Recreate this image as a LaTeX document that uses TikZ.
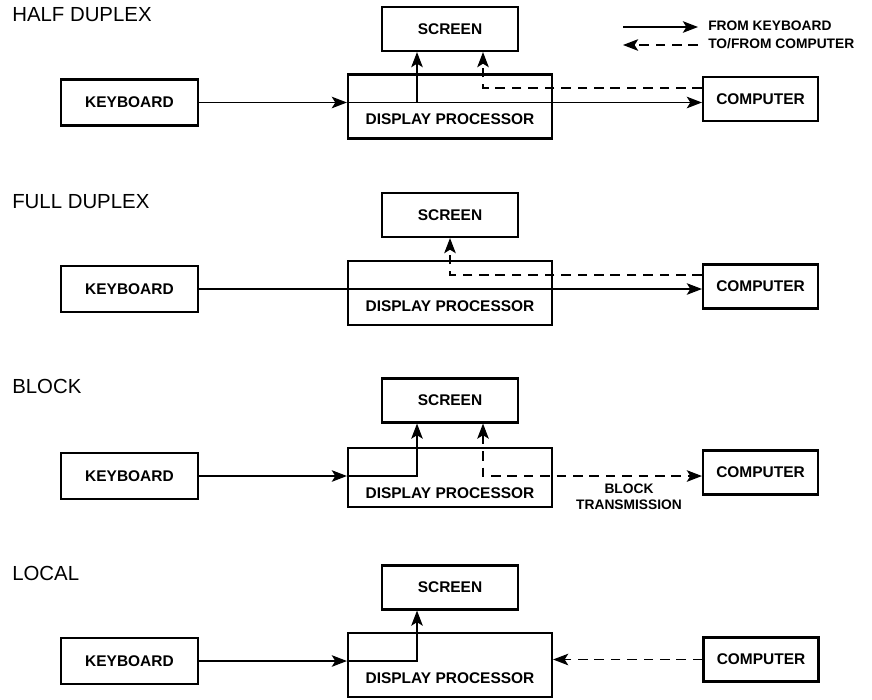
\documentclass[tikz,border=0pt]{standalone}
\usepackage{fontspec}
\setmainfont{Liberation Sans}
\usetikzlibrary{arrows.meta}

\tikzset{
	unit/.style={draw, line width=1.5pt, inner sep=0pt, font=\bfseries\fontsize{11}{12}\selectfont},
	heading/.style={anchor=west, inner sep=0pt, font=\fontsize{14.5}{16}\selectfont},
	keyline/.style={line width=0.8pt, ->},
	hostline/.style={line width=0.8pt, ->, dash pattern=on 2.4mm off 1.7mm},
	legend/.style={anchor=west, inner sep=0pt, font=\bfseries\fontsize{9.8}{11.5}\selectfont},
}

\begin{document}
\begin{tikzpicture}[x=0.025cm, y=-0.025cm, >={Stealth[length=3.8mm,width=2.9mm,inset=0.9mm]}]
	\useasboundingbox (0,0) rectangle (872,699);

	% Legend
	\coordinate (la) at (623,27);
	\coordinate (lb) at (698,27);
	\coordinate (lc) at (623,45);
	\coordinate (ld) at (698,45);
	\draw[keyline] (la) -- (lb);
	\draw[hostline] (ld) -- (lc);
	\node[legend] (lk) at (708,26) {FROM KEYBOARD};
	\node[legend] (lh) at (708,44) {TO/FROM COMPUTER};

	% Half duplex
	\node[heading] (t1) at (12,15) {HALF DUPLEX};
	\node[unit, minimum width=3.425cm, minimum height=1.15cm] (kb1) at (129.5,102.5) {KEYBOARD};
	\node[unit, minimum width=3.4cm, minimum height=1.1cm] (sc1) at (450,29) {SCREEN};
	\node[unit, minimum width=5.1cm, text height=1.26cm, text depth=0.34cm] (dp1) at (450,106.5) {DISPLAY PROCESSOR};
	\node[unit, minimum width=2.875cm, minimum height=1.1cm] (cp1) at (760.5,99) {COMPUTER};
	\coordinate (k1) at (417,102.5);
	\coordinate (h1) at (483,88);
	\draw[keyline] (kb1.east) -- (kb1 -| dp1.west);
	\draw[keyline] (kb1 -| dp1.west) -- (kb1 -| cp1.west);
	\draw[keyline] (k1) -- (k1 |- sc1.south);
	\draw[hostline] (h1 -| cp1.west) -- (h1) -- (h1 |- sc1.south);

	% Full duplex
	\node[heading] (t2) at (12,201.5) {FULL DUPLEX};
	\node[unit, minimum width=3.425cm, minimum height=1.15cm] (kb2) at (129.5,289) {KEYBOARD};
	\node[unit, minimum width=3.4cm, minimum height=1.1cm] (sc2) at (450,215) {SCREEN};
	\node[unit, minimum width=5.1cm, text height=1.26cm, text depth=0.34cm] (dp2) at (450,293) {DISPLAY PROCESSOR};
	\node[unit, minimum width=2.875cm, minimum height=1.1cm] (cp2) at (760.5,286.5) {COMPUTER};
	\coordinate (h2) at (450,275);
	\draw[keyline] (kb2.east) -- (kb2 -| cp2.west);
	\draw[hostline] (h2 -| cp2.west) -- (h2) -- (h2 |- sc2.south);

	% Block
	\node[heading] (t3) at (12,386) {BLOCK};
	\node[unit, minimum width=3.425cm, minimum height=1.15cm] (kb3) at (129.5,476) {KEYBOARD};
	\node[unit, minimum width=3.4cm, minimum height=1.1cm] (sc3) at (450,400.5) {SCREEN};
	\node[unit, minimum width=5.1cm, text height=1.26cm, text depth=0.215cm] (dp3) at (450,477.5) {DISPLAY PROCESSOR};
	\node[unit, minimum width=2.875cm, minimum height=1.1cm] (cp3) at (760.5,472.5) {COMPUTER};
	\coordinate (k3) at (417,476);
	\coordinate (h3) at (483,476);
	\draw[keyline] (kb3.east) -- (kb3 -| dp3.west);
	\draw[keyline] (kb3 -| dp3.west) -- (k3) -- (k3 |- sc3.south);
	\draw[hostline, <->] (h3 |- sc3.south) -- (h3) -- (h3 -| cp3.west);
	\node[legend, anchor=center, align=center] (bt3) at (629,497) {BLOCK\\TRANSMISSION};

	% Local
	\node[heading] (t4) at (12,573.5) {LOCAL};
	\node[unit, minimum width=3.425cm, minimum height=1.15cm] (kb4) at (129.5,661) {KEYBOARD};
	\node[unit, minimum width=3.4cm, minimum height=1.1cm] (sc4) at (450,587.5) {SCREEN};
	\node[unit, minimum width=5.1cm, text height=1.26cm, text depth=0.34cm] (dp4) at (450,665) {DISPLAY PROCESSOR};
	\node[unit, minimum width=2.875cm, minimum height=1.1cm] (cp4) at (761,659.5) {COMPUTER};
	\coordinate (k4) at (417,661);
	\draw[keyline] (kb4.east) -- (kb4 -| dp4.west);
	\draw[keyline] (kb4 -| dp4.west) -- (k4) -- (k4 |- sc4.south);
	\draw[hostline] (cp4.west) -- (cp4 -| dp4.east);
\end{tikzpicture}
\end{document}
